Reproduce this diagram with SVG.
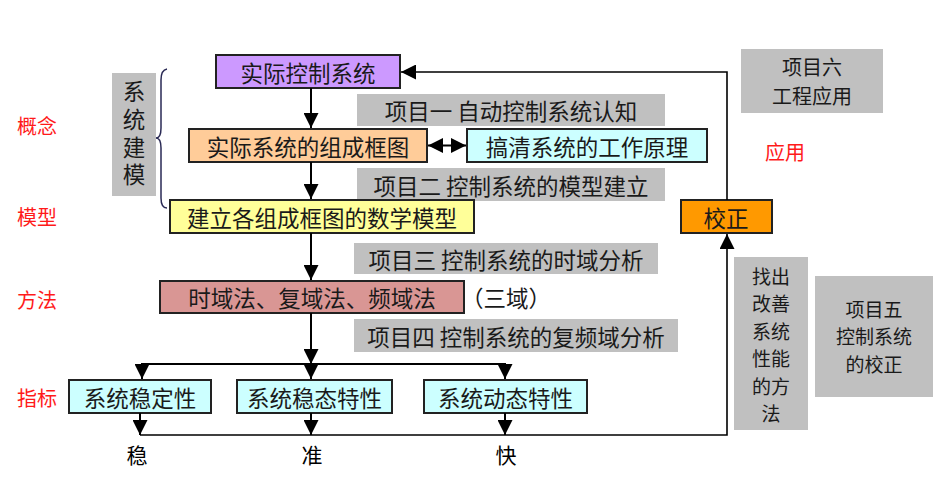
<svg xmlns="http://www.w3.org/2000/svg" width="938" height="478" viewBox="0 0 938 478">
<defs>
<style>
text{font-family:"Noto Sans CJK SC","Noto Sans",sans-serif;text-anchor:middle;dominant-baseline:central;}
.t{font-size:22.5px;fill:#1a1a1a;}
.r{font-size:20px;fill:#ff1a1a;}
.b{font-size:21px;fill:#000;}
.box{stroke:#222;stroke-width:2;}
.g{fill:#c0c0c0;}
.ln{fill:none;stroke:#000;stroke-width:2;}
.fb{fill:none;stroke:#000;stroke-width:1.6;}
.v{writing-mode:vertical-rl;letter-spacing:5.2px;}
</style>
<marker id="ah" markerUnits="userSpaceOnUse" markerWidth="15" markerHeight="15" viewBox="0 0 15 15" refX="15" refY="7.5" orient="auto-start-reverse">
<path d="M0,0 L15,7.5 L0,15 Z" fill="#000"/>
</marker>
</defs>

<rect width="938" height="478" fill="#fff"/>

<g id="side-labels">
<text class="r" x="37" y="125">概念</text>
<text class="r" x="37" y="216">模型</text>
<text class="r" x="37" y="299">方法</text>
<text class="r" x="37" y="397">指标</text>
<text class="r" x="785" y="151">应用</text>
</g>

<g id="modeling">
<rect class="g" x="112" y="73" width="44" height="123"/>
<text class="t v" x="134" y="136">系统建模</text>
<path d="M167,69 Q161,70 161,80 L161,128 Q161,138 156,138 Q161,138 161,148 L161,198 Q161,208 167,208" fill="none" stroke="#2a2a55" stroke-width="1.5"/>
</g>

<g id="project-labels">
<rect class="g" x="357" y="94" width="308" height="32"/>
<text class="t" x="511" y="110">项目一 自动控制系统认知</text>
<rect class="g" x="357" y="168" width="308" height="33"/>
<text class="t" x="511" y="184.5">项目二 控制系统的模型建立</text>
<rect class="g" x="354" y="243" width="304" height="31"/>
<text class="t" x="506" y="258.5">项目三 控制系统的时域分析</text>
<rect class="g" x="354" y="319" width="324" height="33"/>
<text class="t" x="516" y="335.5">项目四 控制系统的复频域分析</text>
<rect class="g" x="741" y="49" width="142" height="64"/>
<text class="t" style="font-size:20px" x="812" y="66">项目六</text>
<text class="t" style="font-size:20px" x="812" y="95">工程应用</text>
<rect class="g" x="815" y="276" width="118" height="121"/>
<text class="t" style="font-size:19px" x="874" y="308">项目五</text>
<text class="t" style="font-size:19px" x="874" y="335.5">控制系统</text>
<text class="t" style="font-size:19px" x="874" y="363">的校正</text>
<rect class="g" x="734" y="257" width="74" height="173"/>
<text class="t" style="font-size:19px" x="771" y="275">找出</text>
<text class="t" style="font-size:19px" x="771" y="302.5">改善</text>
<text class="t" style="font-size:19px" x="771" y="330">系统</text>
<text class="t" style="font-size:19px" x="771" y="357.5">性能</text>
<text class="t" style="font-size:19px" x="771" y="385">的方</text>
<text class="t" style="font-size:19px" x="771" y="412.5">法</text>
</g>

<g id="n-real-system">
<rect class="box" x="216" y="55" width="184" height="33" fill="#cc99ff"/>
<text class="t" x="308" y="71.5">实际控制系统</text>
</g>
<g id="n-block-diagram">
<rect class="box" x="189" y="129" width="238" height="33" fill="#ffcc99"/>
<text class="t" x="308" y="145.5">实际系统的组成框图</text>
</g>
<g id="n-principle">
<rect class="box" x="467" y="129" width="240" height="33" fill="#ccffff"/>
<text class="t" x="587" y="145.5">搞清系统的工作原理</text>
</g>
<g id="n-math-model">
<rect class="box" x="170" y="200" width="304" height="33" fill="#ffff99"/>
<text class="t" x="322" y="216.5">建立各组成框图的数学模型</text>
</g>
<g id="n-correction">
<rect class="box" x="681" y="200" width="91" height="33" fill="#ff9900"/>
<text class="t" x="726" y="216.5">校正</text>
</g>
<g id="n-methods">
<rect class="box" x="160" y="281" width="304" height="32" fill="#d99694"/>
<text class="t" x="312" y="297">时域法、复域法、频域法</text>
<text class="t" x="506" y="297">（三域）</text>
</g>
<g id="n-stability">
<rect class="box" x="69" y="380" width="142" height="33" fill="#ccffff"/>
<text class="t" x="140" y="396.5">系统稳定性</text>
</g>
<g id="n-steady">
<rect class="box" x="237" y="380" width="155" height="33" fill="#ccffff"/>
<text class="t" x="314.5" y="396.5">系统稳态特性</text>
</g>
<g id="n-dynamic">
<rect class="box" x="424" y="380" width="163" height="33" fill="#ccffff"/>
<text class="t" x="505.5" y="396.5">系统动态特性</text>
</g>

<g id="connectors">
<line class="ln" x1="311" y1="88" x2="311" y2="128" marker-end="url(#ah)"/>
<line class="ln" x1="428" y1="145.5" x2="466" y2="145.5" marker-start="url(#ah)" marker-end="url(#ah)"/>
<line class="ln" x1="311" y1="162" x2="311" y2="199" marker-end="url(#ah)"/>
<line class="ln" x1="311" y1="233" x2="311" y2="280" marker-end="url(#ah)"/>
<line class="ln" x1="311" y1="313" x2="311" y2="364" marker-end="url(#ah)"/>
<polyline class="ln" points="142,379 142,364 505,364 505,379"/>
<line class="ln" x1="142" y1="364" x2="142" y2="379" marker-end="url(#ah)"/>
<line class="ln" x1="311" y1="364" x2="311" y2="379" marker-end="url(#ah)"/>
<line class="ln" x1="505" y1="364" x2="505" y2="379" marker-end="url(#ah)"/>
<line class="ln" x1="140" y1="413" x2="140" y2="435" marker-end="url(#ah)"/>
<line class="ln" x1="311" y1="413" x2="311" y2="435" marker-end="url(#ah)"/>
<line class="ln" x1="505" y1="413" x2="505" y2="435" marker-end="url(#ah)"/>
<polyline class="fb" points="140,435 727,435 727,234" marker-end="url(#ah)"/>
<polyline class="fb" points="727,200 727,72 401,72" marker-end="url(#ah)"/>
</g>

<g id="outputs">
<text class="b" x="137" y="454">稳</text>
<text class="b" x="312" y="454">准</text>
<text class="b" x="506" y="454">快</text>
</g>
</svg>
